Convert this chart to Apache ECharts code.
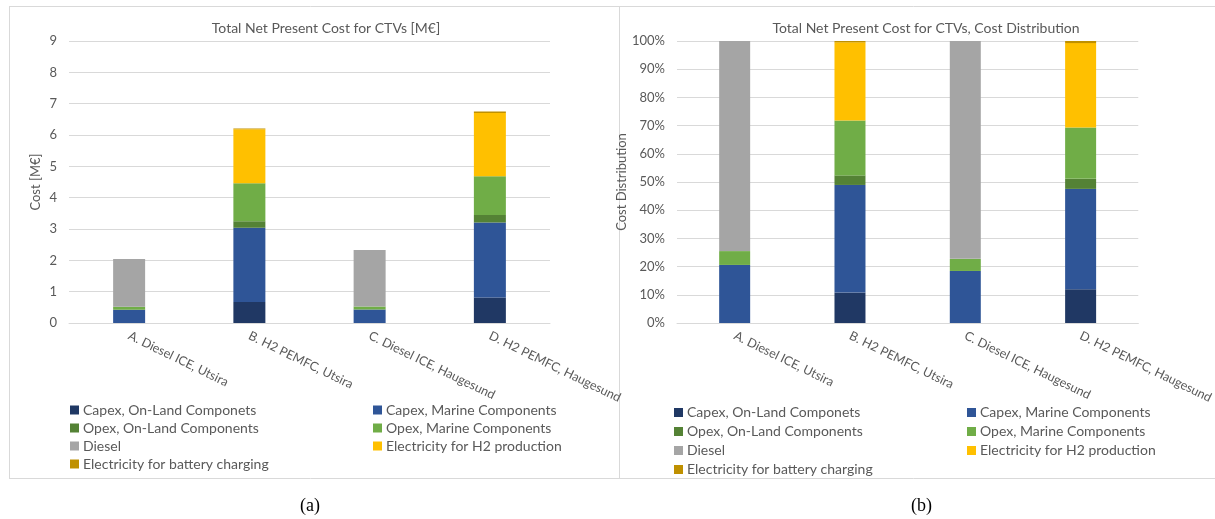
<!DOCTYPE html>
<html>
<head>
<meta charset="utf-8">
<script src="https://cdn.jsdelivr.net/npm/echarts@6/dist/echarts.min.js"></script>
<style>
  html, body { margin: 0; padding: 0; background: #ffffff; }
  #chart { width: 1215px; height: 519px; }
</style>
</head>
<body>
<div id="chart"></div>
<script>
// Scenarios (categories)
const categories = [
  'A. Diesel ICE, Utsira',
  'B. H2 PEMFC, Utsira',
  'C. Diesel ICE, Haugesund',
  'D. H2 PEMFC, Haugesund'
];

// Net present cost components, M€
const capexOnLand      = [0.00, 0.67, 0.00, 0.81];
const capexMarine      = [0.42, 2.37, 0.43, 2.40];
const opexOnLand       = [0.00, 0.21, 0.00, 0.24];
const opexMarine       = [0.10, 1.21, 0.10, 1.23];
const diesel           = [1.52, 0.00, 1.80, 0.00];
const electricityH2    = [0.00, 1.72, 0.00, 2.02];
const electricityBatt  = [0.00, 0.03, 0.00, 0.05];

const seriesNames = [
  'Capex, On-Land Componets',
  'Capex, Marine Components',
  'Opex, On-Land Components',
  'Opex, Marine Components',
  'Diesel',
  'Electricity for H2 production',
  'Electricity for battery charging'
];
const seriesValues = [capexOnLand, capexMarine, opexOnLand, opexMarine, diesel, electricityH2, electricityBatt];
const seriesColors = ['#203864', '#2F5597', '#548235', '#70AD47', '#A5A5A5', '#FFC000', '#BF9000'];

// Tick labels
const costTicks = [0, 1, 2, 3, 4, 5, 6, 7, 8, 9];
const shareTicks = [0, 10, 20, 30, 40, 50, 60, 70, 80, 90, 100];

// Per-scenario totals for the share-of-cost panel
const totals = categories.map((_, i) => seriesValues.reduce((s, arr) => s + arr[i], 0));
const shareValues = seriesValues.map(arr => arr.map((v, i) => v / totals[i] * 100));

const TXT = '#595959';
const GRIDC = '#d9d9d9';
const FONT = 'Lato, "Open Sans", sans-serif';

function xAxisCfg(gridIndex) {
  return {
    type: 'category', gridIndex, data: categories,
    axisLine: { lineStyle: { color: GRIDC } },
    axisTick: { show: false },
    axisLabel: { color: TXT, fontFamily: FONT, fontSize: 12.5, rotate: -26, margin: 12, interval: 0 }
  };
}

const leftSeries = seriesNames.map((name, k) => ({
  name, type: 'bar', stack: 'cost', xAxisIndex: 0, yAxisIndex: 0,
  barWidth: 32, data: seriesValues[k], itemStyle: { color: seriesColors[k] }
}));
const rightSeries = seriesNames.map((name, k) => ({
  name, type: 'bar', stack: 'share', xAxisIndex: 1, yAxisIndex: 1,
  barWidth: 31, data: shareValues[k], itemStyle: { color: seriesColors[k] }
}));

function legendCfg(left, top, lineHeight, names) {
  return {
    orient: 'vertical', left, top, itemGap: 0,
    icon: 'rect', itemWidth: 9, itemHeight: 9,
    selectedMode: false,
    textStyle: { color: TXT, fontFamily: FONT, fontSize: 14, lineHeight, padding: [0, 0, 0, -1] },
    data: names
  };
}
const colA = [seriesNames[0], seriesNames[2], seriesNames[4], seriesNames[6]];
const colB = [seriesNames[1], seriesNames[3], seriesNames[5]];

const option = {
  animation: false,
  backgroundColor: '#ffffff',
  title: [
    { text: 'Total Net Present Cost for CTVs [M€]', left: 321, top: 16, textAlign: 'center',
      textStyle: { color: TXT, fontFamily: FONT, fontSize: 14, fontWeight: 'normal' } },
    { text: 'Total Net Present Cost for CTVs, Cost Distribution', left: 921, top: 16, textAlign: 'center',
      textStyle: { color: TXT, fontFamily: FONT, fontSize: 14, fontWeight: 'normal' } }
  ],
  legend: [
    legendCfg(65, 396, 18, colA),
    legendCfg(368, 396, 18, colB),
    legendCfg(669, 398, 19, colA),
    legendCfg(962, 398, 19, colB)
  ],
  grid: [
    { left: 69, right: 665, top: 41, bottom: 196 },
    { left: 677, right: 65, top: 41, bottom: 196 }
  ],
  xAxis: [xAxisCfg(0), xAxisCfg(1)],
  yAxis: [
    {
      type: 'value', gridIndex: 0, min: costTicks[0], max: costTicks[costTicks.length - 1], interval: 1,
      name: 'Cost [M€]', nameLocation: 'middle', nameGap: 27,
      nameTextStyle: { color: TXT, fontFamily: FONT, fontSize: 13 },
      axisLine: { show: false }, axisTick: { show: false },
      axisLabel: { color: TXT, fontFamily: FONT, fontSize: 13, margin: 12 },
      splitLine: { lineStyle: { color: GRIDC, width: 1 } }
    },
    {
      type: 'value', gridIndex: 1, min: shareTicks[0], max: shareTicks[shareTicks.length - 1], interval: 10,
      name: 'Cost Distribution', nameLocation: 'middle', nameGap: 44,
      nameTextStyle: { color: TXT, fontFamily: FONT, fontSize: 13 },
      axisLine: { show: false }, axisTick: { show: false },
      axisLabel: { color: TXT, fontFamily: FONT, fontSize: 13, margin: 12, formatter: '{value}%' },
      splitLine: { lineStyle: { color: GRIDC, width: 1 } }
    }
  ],
  graphic: [
    // panel frames
    { type: 'line', shape: { x1: 9, y1: 6.5, x2: 1215, y2: 6.5 }, style: { stroke: GRIDC, lineWidth: 1 }, silent: true },
    { type: 'line', shape: { x1: 9, y1: 478.5, x2: 1215, y2: 478.5 }, style: { stroke: GRIDC, lineWidth: 1 }, silent: true },
    { type: 'line', shape: { x1: 9.5, y1: 6, x2: 9.5, y2: 479 }, style: { stroke: GRIDC, lineWidth: 1 }, silent: true },
    { type: 'line', shape: { x1: 619.5, y1: 6, x2: 619.5, y2: 479 }, style: { stroke: GRIDC, lineWidth: 1 }, silent: true },
    // sub-figure captions
    { type: 'text', left: 300, top: 497, style: { text: '(a)', fill: '#000', font: '18px "Liberation Serif", serif' } },
    { type: 'text', left: 911, top: 497, style: { text: '(b)', fill: '#000', font: '18px "Liberation Serif", serif' } }
  ],
  series: leftSeries.concat(rightSeries)
};

const chart = echarts.init(document.getElementById('chart'), null, { renderer: 'canvas' });
chart.setOption(option);
</script>
</body>
</html>
